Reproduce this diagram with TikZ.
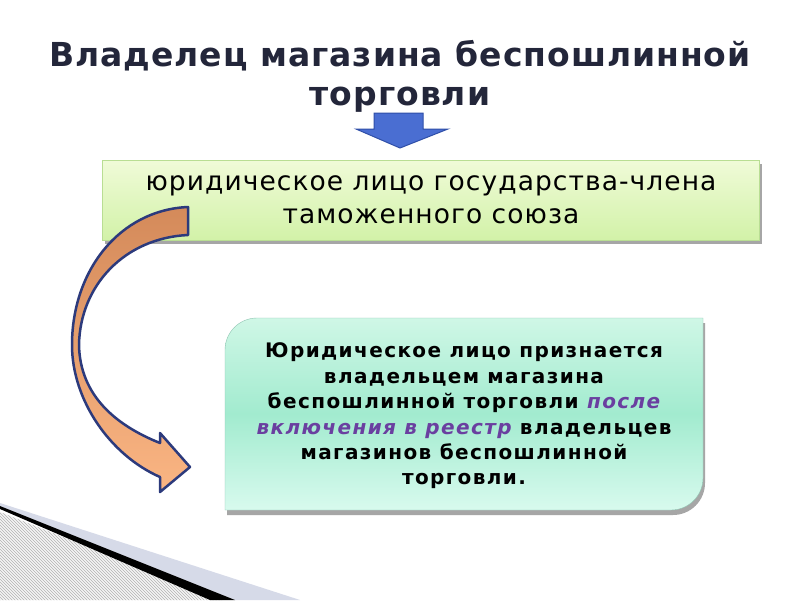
\documentclass[tikz,border=0pt]{standalone}
\usepackage{fontspec}
\setmainfont{DejaVu Sans}
\usetikzlibrary{positioning, patterns, shadows}
\definecolor{titleink}{HTML}{23263A}
\definecolor{limetop}{HTML}{F0FBD8}
\definecolor{limebot}{HTML}{D2F2A8}
\definecolor{limeedge}{HTML}{B9DE93}
\definecolor{minttop}{HTML}{CFF7E6}
\definecolor{mintmid}{HTML}{A2EBCF}
\definecolor{mintbot}{HTML}{D8FAEE}
\definecolor{mintedge}{HTML}{8FC4B2}
\definecolor{regpurple}{HTML}{6A3FA0}
\definecolor{arrowblue}{HTML}{4A6ED2}
\definecolor{arrowedge}{HTML}{2F4FA8}
\definecolor{swoopdark}{HTML}{D48A5A}
\definecolor{swooplight}{HTML}{FAB583}
\definecolor{swoopedge}{HTML}{2C3A7C}
\definecolor{bandgray}{HTML}{D6DAE8}

\begin{document}
\begin{tikzpicture}[x=1pt, y=-1pt,
    heading/.style={font=\bfseries\fontsize{33}{39}\selectfont\addfontfeature{LetterSpace=3}, text=titleink, align=center},
    limebox/.style={draw=limeedge, top color=limetop, bottom color=limebot, minimum width=657pt, minimum height=80pt,
        drop shadow={shadow xshift=2pt, shadow yshift=-4pt, fill=gray!70, opacity=1},
        font=\fontsize{26.5}{33}\selectfont\addfontfeature{LetterSpace=4}, align=center},
    mintbox/.style={draw=mintedge, top color=minttop, bottom color=mintbot, middle color=mintmid,
        drop shadow={shadow xshift=2pt, shadow yshift=-5pt, fill=gray!70, opacity=1}},
    ruletext/.style={font=\bfseries\fontsize{20}{25.4}\selectfont\addfontfeature{LetterSpace=7}, align=center}]
    \useasboundingbox (0,0) rectangle (800,600);
    \fill[white] (0,0) rectangle (800,600);

    % bottom left swoosh
    \fill[gray!8] (0,512) -- (222,600) -- (0,600) -- cycle;
    \fill[pattern=north west lines, pattern color=gray!60] (0,512) -- (222,600) -- (0,600) -- cycle;
    \fill[bandgray] (0,503) -- (300,600) -- (235,600) -- (0,506) -- cycle;
    \fill[black] (0,506) -- (235,600) -- (210,600) -- (0,509) -- cycle;

    \node[heading] (title) at (400,76) {Владелец магазина беспошлинной\\торговли};

    % down arrow
    \filldraw[draw=arrowedge, fill=arrowblue, line width=1pt]
        (374,113) -- (423,113) -- (423,129) -- (448,129) -- (400,148) -- (356,129) -- (374,129) -- cycle;

    \node[limebox] (member) at (431,200) {\raisebox{-3pt}{юридическое лицо государства-члена}\\\raisebox{-3pt}{таможенного союза}};

    \path[mintbox] (225,510) -- (225,400) [rounded corners=32pt] -- (225,318) -- (450,318) [sharp corners]
        -- (703,318) -- (703,420) [rounded corners=32pt] -- (703,510) -- (450,510) [sharp corners] -- cycle;
    \node[ruletext] (rule) at (464,416) {Юридическое лицо признается\\владельцем магазина\\
        беспошлинной торговли {\color{regpurple}\itshape после}\\
        {\color{regpurple}\itshape включения в реестр} владельцев\\
        магазинов беспошлинной\\торговли.};

    % curved arrow
    \path[draw=swoopedge, line width=2.5pt, line join=round, top color=swoopdark, bottom color=swooplight]
        (188,207) .. controls (120,210) and (72,270) .. (72,345)
        .. controls (72,400) and (110,455) .. (160,477) -- (160,492) -- (190,467) -- (160,433) -- (160,443)
        .. controls (115,425) and (80,395) .. (79,345)
        .. controls (80,285) and (125,238) .. (188,235) -- cycle;
\end{tikzpicture}
\end{document}
